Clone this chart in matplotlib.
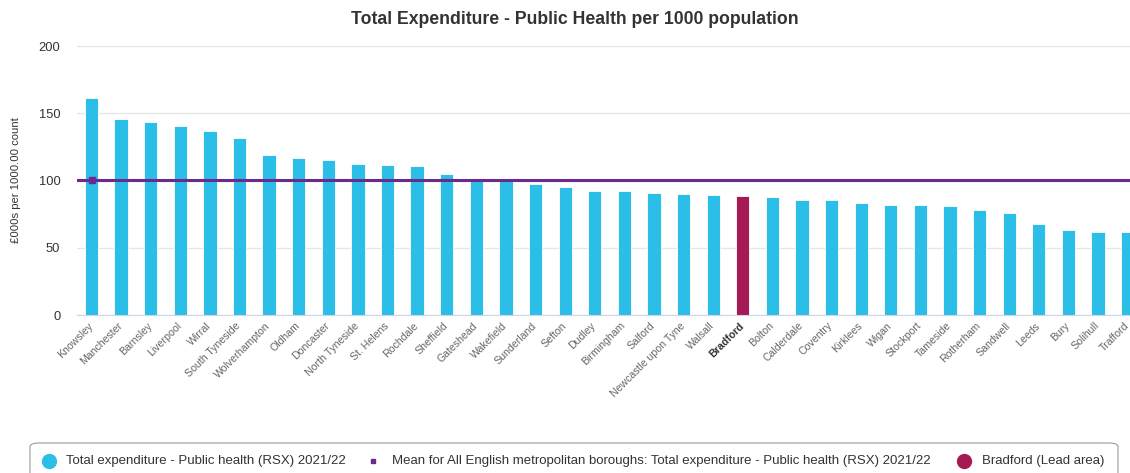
import matplotlib.pyplot as plt
import matplotlib.transforms as mtransforms
from matplotlib.lines import Line2D
from matplotlib.patches import FancyBboxPatch

plt.rcParams["font.family"] = ["Liberation Sans", "DejaVu Sans"]

# Total expenditure on public health per 1000 population, 2021/22
areas = [
    "Knowsley", "Manchester", "Barnsley", "Liverpool", "Wirral", "South Tyneside",
    "Wolverhampton", "Oldham", "Doncaster", "North Tyneside", "St. Helens",
    "Rochdale", "Sheffield", "Gateshead", "Wakefield", "Sunderland", "Sefton",
    "Dudley", "Birmingham", "Salford", "Newcastle upon Tyne", "Walsall",
    "Bradford", "Bolton", "Calderdale", "Coventry", "Kirklees", "Wigan",
    "Stockport", "Tameside", "Rotherham", "Sandwell", "Leeds", "Bury",
    "Solihull", "Trafford",
]
spend = [
    161.3, 145.6, 143.2, 140.6, 136.6, 131.4, 119.0, 116.6, 115.0, 112.5, 111.6,
    110.8, 104.8, 100.2, 99.6, 97.4, 95.0, 92.4, 92.4, 90.8, 90.0, 89.1,
    88.3, 87.5, 85.8, 85.8, 83.5, 81.8, 81.8, 80.9, 77.8, 76.1, 67.7, 63.4,
    61.9, 61.9,
]
mean_value = 100.4
lead_area = "Bradford"

bar_color = "#2bbfe8"
lead_color = "#a51955"
mean_color = "#6b2a8f"

fig = plt.figure(figsize=(11.3, 4.73), dpi=100)
ax = fig.add_axes([77 / 1130, 1 - 315 / 473, 1 - 77 / 1130, (315 - 46) / 473])

x = list(range(len(areas)))
colors = [lead_color if a == lead_area else bar_color for a in areas]
ax.bar(x, spend, width=0.45, color=colors, edgecolor="white", linewidth=0.6, zorder=2)

ax.axhline(mean_value, color=mean_color, linewidth=2.2, zorder=3)
ax.plot([0], [mean_value], marker="s", markersize=4, color=mean_color, zorder=4)

ax.set_xlim(-0.49, 35.08)
ax.set_ylim(0, 200)
ax.set_yticks([0, 50, 100, 150, 200])
ax.yaxis.grid(True, color="#e6e6e6", linewidth=1, zorder=0)
ax.set_axisbelow(True)
for side in ["top", "right", "left"]:
    ax.spines[side].set_visible(False)
ax.spines["bottom"].set_color("#ccd6eb")
ax.tick_params(axis="y", length=0, pad=12, labelsize=9.3, labelcolor="#333333")
ax.tick_params(axis="x", length=0, pad=4)

ax.set_xticks(x)
ax.set_xticklabels(areas, rotation=45, ha="right", rotation_mode="anchor",
                   fontsize=7.6, color="#666666")
# nudge the rotated labels a little left so the last one stays inside
shift = mtransforms.ScaledTranslation(-4 / 100, 0, fig.dpi_scale_trans)
for lbl in ax.get_xticklabels():
    lbl.set_transform(lbl.get_transform() + shift)
    if lbl.get_text() == lead_area:
        lbl.set_fontweight("bold")
        lbl.set_color("#333333")

ax.set_ylabel("£000s per 1000.00 count", fontsize=8.1, color="#333333")
ax.yaxis.set_label_coords(-0.053, 0.5)

fig.text(575 / 1130, 1 - 20 / 473, "Total Expenditure - Public Health per 1000 population",
         ha="center", va="center", fontsize=12.7, fontweight="bold", color="#333333")

# legend box along the bottom edge
box = FancyBboxPatch((30 / 1130, -0.05), 1088 / 1130, (473 - 443) / 473 + 0.05,
                     boxstyle="round,pad=0,rounding_size=0.008", transform=fig.transFigure,
                     facecolor="white", edgecolor="#999999", linewidth=0.8)
fig.patches.append(box)

legend_y = 1 - 461 / 473
items = [
    (49, "o", 10, bar_color, "Total expenditure - Public health (RSX) 2021/22", 66),
    (373, "s", 2.5, mean_color,
     "Mean for All English metropolitan boroughs: Total expenditure - Public health (RSX) 2021/22", 392),
    (964, "o", 10, lead_color, "Bradford (Lead area)", 982),
]
for mx, marker, ms, col, text, tx in items:
    fig.add_artist(Line2D([mx / 1130], [legend_y], marker=marker, markersize=ms,
                          color=col, linestyle="none", transform=fig.transFigure))
    fig.text(tx / 1130, legend_y, text, ha="left", va="center", fontsize=9.55, color="#333333")

fig.savefig("out.png", dpi=100)
